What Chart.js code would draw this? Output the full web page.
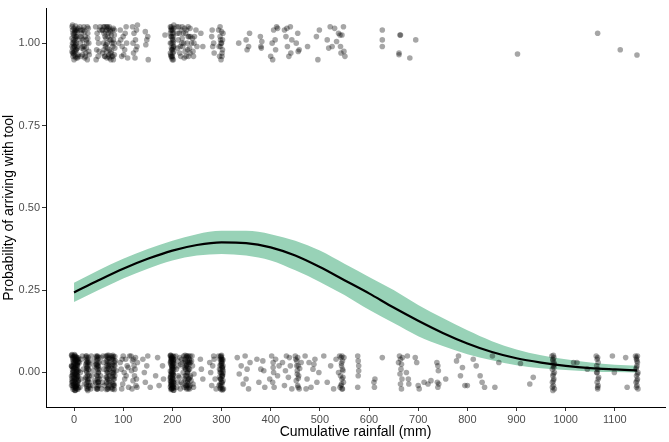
<!DOCTYPE html>
<html>
<head>
<meta charset="utf-8">
<script src="https://cdn.jsdelivr.net/npm/chart.js@4.4.1/dist/chart.umd.min.js"></script>
<style>
  html, body { margin: 0; padding: 0; background: #fff; }
  #grafico { display: block; }
</style>
</head>
<body>
<canvas id="grafico" width="669" height="442"></canvas>
<script>
// tick labels
const xTicks = [0, 100, 200, 300, 400, 500, 600, 700, 800, 900, 1000, 1100];
const yTicks = [0, 0.25, 0.5, 0.75, 1];

// fitted curve and its confidence band
const curveX = [0, 50, 100, 150, 200, 250, 300, 350, 400, 450, 500, 550, 600, 650, 700, 750, 800, 850, 900, 950, 1000, 1050, 1100, 1145];
const fitY   = [0.243, 0.28, 0.315, 0.345, 0.37, 0.387, 0.395, 0.393, 0.38, 0.355, 0.32, 0.28, 0.24, 0.197, 0.157, 0.12, 0.088, 0.062, 0.043, 0.03, 0.02, 0.013, 0.009, 0.006];
const lowerY = [0.214, 0.25, 0.285, 0.315, 0.34, 0.355, 0.36, 0.355, 0.34, 0.31, 0.275, 0.235, 0.19, 0.15, 0.11, 0.08, 0.055, 0.037, 0.022, 0.013, 0.007, 0.003, 0.001, 0.0];
const upperY = [0.272, 0.31, 0.345, 0.375, 0.4, 0.42, 0.43, 0.43, 0.42, 0.4, 0.37, 0.33, 0.29, 0.25, 0.205, 0.165, 0.128, 0.095, 0.07, 0.052, 0.04, 0.03, 0.023, 0.02];

// jittered observations: arrived without tool (y ~ 0)
const noTool = [
  [-4,0.05],[2,0.048],[6,0.045],[-2,0.04],[4,0.035],[8,0.03],[0,0.025],[-5,0.02],[3,0.015],[7,0.01],[-1,0.005],[5,0],[1,-0.005],[-3,-0.01],[6,-0.015],[2,-0.02],[-4,-0.025],[8,-0.03],[0,-0.035],[4,-0.04],
  [-2,-0.045],[6,-0.05],[1,-0.053],[-5,0.052],[3,0.038],[7,0.022],[-1,0.012],[5,-0.008],[-3,-0.028],[2,-0.042],[9,0.044],[-4,-0.018],[0,0.032],[6,0.002],[3,-0.048],[-2,0.018],[8,-0.012],[1,0.054],[4,-0.032],[-5,-0.04],
  [-3,0.045],[1,0.041],[5,0.037],[9,0.033],[-1,0.029],[3,0.025],[7,0.021],[-4,0.017],[0,0.013],[4,0.009],[8,0.005],[-2,0.001],[2,-0.003],[6,-0.007],[-5,-0.011],
  [1,-0.015],[5,-0.019],[9,-0.023],[-1,-0.027],[3,-0.031],[7,-0.035],[-3,-0.039],[0,-0.043],[4,-0.047],[8,-0.051],[2,0.051],[6,0.027],[-2,-0.006],[5,0.047],[3,-0.054],
  [-4,0.054],[0,0.049],[4,0.044],[8,0.039],[-2,0.034],[2,0.029],[6,0.024],[-5,0.019],[1,0.014],[5,0.009],[9,0.004],[-3,-0.001],[3,-0.006],[7,-0.011],[-1,-0.016],
  [4,-0.021],[8,-0.026],[-4,-0.031],[0,-0.036],[5,-0.041],[9,-0.046],[-2,-0.051],[2,-0.055],[6,-0.038],[-3,0.008],[7,0.04],[1,-0.024],[4,0.02],[-1,0.046],[3,-0.044],
  [11,0.03],[14,-0.02],[17,0.05],[12,-0.045],[19,0.01],[15,0.04],[21,-0.035],[13,0.0],
  [24,0.05],[27,0.04],[30,0.03],[25,0.02],[29,0.01],[26,0],[31,-0.01],[23,-0.02],[28,-0.03],[32,-0.04],[26,-0.05],[29,0.045],[24,-0.015],[30,-0.045],[27,0.015],[25,0.035],[31,0.025],[28,-0.025],
  [25,0.045],[28,0.03],[26,0.012],[29,-0.005],[27,-0.02],[25,-0.035],[28,-0.05],[30,0.008],[26,-0.042],[29,0.035],[24,0.025],[31,-0.03],
  [26,0.05],[28,0.02],[27,-0.01],[29,-0.04],[25,0.005],[30,-0.02],[26,0.03],[28,-0.055],
  [35,0.05],[38,-0.04],[41,0.02],[36,-0.01],[40,0.035],[34,-0.05],[39,0.005],[42,-0.025],
  [45,0.05],[48,0.04],[51,0.03],[46,0.015],[50,0],[47,-0.01],[52,-0.02],[44,-0.03],[49,-0.04],[46,-0.05],[50,0.045],[48,-0.022],[51,0.008],[45,0.025],[47,-0.045],[49,0.02],
  [47,0.048],[49,0.03],[48,0.01],[46,-0.008],[50,-0.028],[48,-0.05],[47,0.02],[49,-0.015],[46,0.035],[51,-0.04],
  [48,0.05],[47,0.025],[49,0.0],[48,-0.03],[46,0.045],[50,0.015],[47,-0.05],[49,-0.03],
  [55,0.045],[58,-0.03],[61,0.01],[56,-0.05],[60,0.03],[54,-0.01],[59,0.05],[62,-0.04],
  [65,0.05],[68,0.04],[71,0.03],[66,0.02],[70,0.01],[67,0],[72,-0.01],[69,-0.02],[66,-0.03],[71,-0.04],[68,-0.05],[70,0.045],[67,-0.035],[72,0.025],[69,0.015],[65,-0.015],[71,0.052],
  [66,0.035],[69,0.0],[72,-0.025],[67,0.048],[70,-0.045],[68,0.025],[71,-0.005],[66,-0.052],[69,0.033],[72,0.042],
  [68,0.052],[70,0.02],[67,-0.015],[71,-0.03],[69,-0.05],[66,0.008],[72,0.01],[68,-0.02],
  [76,0.05],[79,0.04],[82,0.03],[77,0.02],[81,0.01],[78,0],[83,-0.01],[80,-0.02],[77,-0.03],[82,-0.04],[79,-0.05],[84,0.035],[76,-0.045],[81,0.022],[78,-0.012],[86,0.005],[80,0.048],
  [77,0.04],[80,0.005],[83,0.02],[78,0.045],[81,-0.035],[79,-0.015],[82,-0.052],[77,0.012],[80,-0.04],[83,0.048],
  [79,0.052],[81,0.035],[78,0.025],[80,-0.005],[82,-0.02],[79,-0.035],[77,-0.05],[81,0.0],
  [94,0.03],[97,-0.05],[100,0.05],[103,-0.02],[96,0.01],[105,0.04],[99,-0.035],[108,0.02],[102,0.0],[111,-0.045],[106,-0.01],[113,0.05],[98,0.04],[110,0.015],
  [116,0.05],[119,0.035],[122,0.02],[125,0.045],[117,0.005],[123,-0.01],[120,-0.025],[126,-0.04],[118,-0.05],[124,0.01],[121,0.04],[127,-0.02],[129,0.03],[128,-0.045],
  [140,0.04],[145,-0.03],[150,0.05],[143,0.0],[155,-0.045],[148,0.02],[166,-0.01],[170,0.045],[173,-0.04],[180,0.02],[182,-0.02],
  [196,0.052],[199,0.046],[202,0.04],[197,0.034],[201,0.028],[198,0.022],[203,0.016],[200,0.01],[196,0.004],[199,-0.002],[202,-0.008],[197,-0.014],[201,-0.02],[198,-0.026],
  [203,-0.032],[200,-0.038],[196,-0.044],[199,-0.05],[202,-0.054],[198,0.043],[201,-0.006],[197,-0.03],[200,0.03],[203,-0.047],[199,0.018],[196,-0.018],[201,0.05],[198,-0.04],
  [197,0.052],[200,0.045],[203,0.04],[198,0.035],[201,0.02],[199,0.008],[202,0.0],[197,-0.005],[200,-0.015],[203,-0.022],[198,-0.035],
  [201,-0.042],[199,-0.05],[202,0.025],[196,0.03],[200,-0.028],[203,0.048],[197,-0.052],[201,0.012],[198,-0.008],[202,-0.038],[199,0.04],
  [196,0.05],[199,0.042],[202,0.034],[197,0.026],[200,0.018],[203,0.01],[198,0.002],[201,-0.006],[196,-0.014],[199,-0.022],[202,-0.03],[197,-0.038],[200,-0.046],
  [203,-0.054],[198,0.048],[201,0.036],[196,-0.026],[199,0.014],[202,-0.045],[200,0.0],[197,0.041],[201,-0.017],[198,-0.048],[203,0.028],[199,-0.033],
  [207,0.05],[210,-0.03],[213,0.02],[216,-0.05],[219,0.04],[222,0.0],[225,-0.02],[228,0.045],[231,-0.04],[234,0.03],[237,-0.01],[240,0.05],[243,-0.045],[208,0.01],
  [211,0.035],[214,-0.015],[217,0.025],[220,-0.035],[223,0.05],[226,0.015],[229,-0.05],[232,0.005],[235,0.04],[238,-0.025],[241,0.02],[244,-0.005],[209,-0.045],[212,-0.01],
  [215,0.045],[218,-0.03],[221,0.03],[224,-0.045],[227,0.01],[230,0.025],[233,-0.02],[236,-0.04],[239,0.035],[242,-0.035],[230,-0.01],[226,0.052],
  [225,0.04],[228,0.02],[231,0.0],[234,-0.02],[229,-0.04],[232,0.045],[227,0.03],[230,-0.03],[233,0.01],[236,0.05],
  [226,-0.01],[235,-0.05],[231,0.035],[228,-0.045],[234,0.025],[237,0.03],[224,0.015],[230,0.05],[232,-0.035],[227,-0.025],
  [229,0.05],[232,0.03],[235,0.01],[228,-0.01],[231,-0.025],[234,-0.045],[226,0.035],[233,0.05],[230,0.0],[236,-0.015],[227,-0.04],[232,-0.05],[229,0.02],[235,0.035],[231,0.015],
  [257,0.04],[262,-0.02],[259,0.01],
  [276,0.03],[280,-0.04],[284,0.05],[278,0.0],[287,-0.02],[282,0.02],[289,-0.05],[285,0.04],
  [294,0.05],[297,0.04],[300,0.03],[303,0.02],[296,0.01],[299,0],[302,-0.01],[298,-0.02],[301,-0.03],[295,-0.04],[304,-0.05],[300,0.045],[297,-0.035],[302,0.015],[299,-0.052],[301,0.035],[296,-0.015],[303,0.005],
  [298,0.048],[301,0.04],[299,0.025],[302,0.01],[300,-0.005],[298,-0.02],[301,-0.035],[299,-0.045],[302,-0.05],[300,0.02],[297,0.0],[303,-0.025],[299,0.035],[301,-0.012],
  [299,0.05],[301,0.028],[298,0.008],[302,-0.008],[300,-0.03],[297,-0.048],[303,0.038],[299,-0.02],[301,0.015],[298,-0.04],[300,0.052],[302,-0.053],[297,0.022],[303,-0.002],[300,0.04],
  [332,0.045],[336,-0.005],[340,0.02],[344,-0.035],[348,0.05],[352,0.01],[355,-0.05],[358,0.03],[350,-0.02],
  [372,0.04],[376,-0.03],[380,0.01],[384,0.035],[388,-0.045],[386,0.005],
  [398,-0.02],[402,0.05],[405,0.03],[406,0.0],[404,-0.03],[407,-0.045],[405,0.015],[410,0.04],[414,-0.01],[417,0.02],
  [424,0.03],[428,-0.04],[432,0.05],[436,-0.015],[440,0.02],[443,-0.05],[430,0.005],[438,0.045],
  [450,0.05],[453,0.035],[456,0.02],[454,0.005],[457,-0.01],[452,-0.025],[455,-0.04],[458,-0.05],[451,0.04],[459,0.012],[456,-0.018],[462,0.03],
  [455,0.045],[454,-0.005],[456,-0.045],[453,0.02],
  [470,0.05],[474,-0.02],[478,0.03],[482,-0.045],[486,0.01],[490,0.04],[494,-0.03],[498,0.0],[472,-0.05],[488,0.025],
  [508,0.05],[515,-0.03],[522,0.02],[528,-0.05],[533,0.04],[538,0.0],
  [540,0.05],[543,0.045],[546,0.035],[544,0.02],[547,0.005],[542,-0.01],[545,-0.02],[548,-0.03],[543,-0.04],[546,-0.05],[544,0.028],[547,-0.015],[549,0.045],[541,-0.045],
  [545,0.05],[546,0.01],[544,-0.035],[545,-0.05],
  [577,0.05],[578,0.035],[579,0.02],[578,-0.01],[577,-0.045],[579,0.005],
  [610,-0.03],[611,-0.045],[612,-0.02],[627,0.045],
  [662,0.05],[664,0.04],[666,0.025],[665,0.01],[663,-0.005],[667,-0.02],[664,-0.035],[666,-0.05],[660,0.03],[668,0.045],
  [678,0.05],[680,-0.02],[681,-0.035],[676,0.0],[694,0.045],[697,0.03],[700,-0.04],[702,-0.05],
  [712,-0.03],[720,-0.035],[726,-0.025],
  [738,0.03],[740,0.02],[741,0.005],[739,-0.03],[742,-0.035],[740,-0.045],[756,-0.02],
  [778,0.035],[782,0.05],[786,-0.01],[790,0.015],[795,-0.04],[800,-0.04],
  [812,0.04],[818,0.02],[826,-0.01],[830,-0.03],[835,-0.045],[851,0.05],[856,-0.045],
  [864,0.03],[908,0.027],[927,-0.035],[934,-0.015],
  [972,0.05],[974,0.04],[976,0.03],[975,0.02],[973,0.01],[977,0.0],[974,-0.01],[976,-0.02],[973,-0.03],[975,-0.04],[977,-0.05],[974,-0.055],[976,0.045],[975,-0.025],
  [974,0.035],[976,0.015],[975,-0.005],[973,-0.045],[977,0.025],[975,0.052],
  [1016,0.03],[1023,0.03],[1044,0.01],
  [1062,0.05],[1064,0.04],[1066,0.03],[1065,0.01],[1063,0.0],[1067,-0.015],[1064,-0.03],[1066,-0.04],[1065,-0.05],[1063,0.02],
  [1065,0.045],[1064,0.0],[1066,-0.02],[1065,-0.045],
  [1095,0.05],[1099,0.0],[1122,0.045],[1125,-0.045],
  [1142,0.05],[1144,0.04],[1146,0.03],[1145,0.02],[1143,0.01],[1147,0.0],[1144,-0.01],[1146,-0.02],[1143,-0.03],[1145,-0.04],[1147,-0.05],[1144,0.045],
  [1145,0.035],[1144,0.015],[1146,-0.005],[1145,-0.025],[1144,-0.045],[1146,0.05]
];

// jittered observations: arrived with tool (y ~ 1)
const withTool = [
  [-4,1.05],[0,1.045],[4,1.04],[-2,1.03],[2,1.02],[6,1.01],[-3,1.0],[1,0.99],[5,0.98],[-1,0.97],[3,0.96],[7,0.955],[0,0.95],[-4,1.015],[2,0.975],[6,1.035],[-2,0.985],[4,1.0],[8,0.965],[-1,1.025],[3,1.052],[0,0.99],
  [-3,1.04],[1,1.03],[5,1.02],[-1,1.01],[3,0.995],[7,0.985],[-4,0.975],[0,0.965],[4,0.955],[8,1.045],[-2,0.96],[2,1.04],[6,0.99],[-3,0.97],[1,1.005],
  [-3,1.055],[2,1.035],[6,1.02],[-1,1.0],[4,0.98],[8,0.96],[0,0.975],[-4,0.99],[3,1.015],[7,1.04],
  [12,1.05],[15,1.03],[18,1.01],[21,0.99],[24,0.97],[27,0.95],[14,0.96],[17,1.04],[20,0.98],[23,1.02],[26,1.0],[29,1.045],[31,0.965],[28,1.015],[22,0.955],[16,0.985],
  [13,1.0],[19,1.04],[25,1.01],[30,0.975],[22,1.035],[17,0.965],[27,1.05],[14,1.02],
  [13,1.04],[18,0.99],[23,0.96],[28,1.03],[20,1.05],[25,0.985],[16,1.015],[30,1.0],
  [44,1.05],[47,1.03],[50,1.0],[46,0.98],[49,0.96],[52,1.04],[45,0.95],[48,1.015],[51,0.975],[53,1.05],
  [57,1.04],[60,1.0],[63,0.96],[66,1.05],[69,1.02],[72,0.98],[75,0.95],[78,1.04],[81,1.0],[58,0.97],[61,1.03],[64,0.99],[67,0.955],
  [70,1.045],[73,1.01],[76,0.975],[79,0.96],[82,1.025],[65,1.015],[68,0.985],[71,0.965],[74,1.035],[77,1.0],[80,0.95],[62,1.05],[83,0.985],
  [58,1.04],[61,0.98],[64,1.035],[67,1.0],[70,0.96],[73,1.04],[76,1.025],[79,0.99],[82,0.965],[68,1.05],[72,0.955],[75,1.01],[63,1.02],[80,1.045],[66,0.975],
  [60,1.05],[65,0.995],[70,1.03],[75,0.97],[80,1.01],[72,1.05],[67,1.04],[77,0.96],[62,0.96],[82,1.04],
  [91,1.0],[94,1.04],[97,0.96],[100,1.02],[103,0.98],[106,1.05],[109,0.955],[95,1.01],[98,0.99],[104,1.03],[101,0.965],[107,1.0],
  [119,1.05],[122,1.03],[125,1.01],[128,0.99],[121,0.97],[124,0.955],[127,1.04],[120,1.0],[126,0.98],[129,1.055],
  [145,1.035],[148,1.01],[151,0.95],[146,0.995],[150,1.02],[185,1.025],
  [196,1.05],[199,1.04],[202,1.03],[197,1.02],[201,1.01],[198,1.0],[203,0.99],[200,0.98],[196,0.97],[199,0.96],[202,0.95],[198,1.045],[201,0.985],[197,0.965],[200,1.015],[203,1.055],
  [197,1.04],[200,1.03],[202,1.005],[198,0.985],[201,0.97],[199,0.955],[203,1.045],[196,1.0],[200,0.96],[202,1.02],
  [198,1.05],[201,1.04],[199,1.02],[202,0.99],[197,0.96],[200,0.95],[203,0.975],[196,1.03],[201,1.0],[199,0.98],
  [209,1.05],[212,1.01],[215,0.97],[218,1.04],[221,0.99],[224,0.955],[227,1.03],[230,1.0],[233,0.96],[236,1.045],[239,1.0],
  [242,0.975],[245,1.02],[248,1.04],[211,0.985],[214,1.03],[220,1.015],[226,0.975],[232,1.05],[235,0.985],[241,1.015],[250,0.99],
  [213,1.05],[219,1.0],[225,1.045],[231,0.98],[237,1.02],[243,0.96],[216,0.99],[222,1.03],[228,0.96],[234,1.02],
  [210,1.03],[217,0.96],[223,1.0],[229,1.04],[236,0.97],[244,1.0],[220,1.05],[232,1.02],
  [258,1.03],[262,0.99],
  [280,1.02],[282,0.99],[284,1.0],[285,0.97],[281,1.04],
  [294,1.04],[297,1.02],[300,1.0],[302,0.98],[296,0.96],[299,0.95],[303,1.03],[298,1.01],[301,0.97],[295,0.99],
  [297,1.05],[300,1.035],[302,1.01],[298,0.99],[301,0.96],[299,1.0],
  [335,1.0],[350,1.01],[352,0.98],[355,0.99],[357,1.03],
  [379,1.02],[380,0.99],[381,0.985],[382,1.005],
  [400,0.96],[403,1.0],[406,1.04],[409,1.01],[412,1.05],[404,0.95],[410,0.98],[414,1.045],
  [428,1.04],[431,1.02],[434,0.99],[437,0.96],[440,1.05],[443,1.01],[433,1.045],[441,0.97],
  [452,1.0],[455,1.03],[458,0.98],[456,0.975],[475,0.99],
  [493,1.02],[496,0.95],[499,1.04],
  [515,1.01],[518,0.985],[521,1.05],[525,0.99],
  [530,1.045],[534,1.005],[538,1.03],[541,1.025],[542,0.99],[543,0.97],[545,1.025],[548,1.05],[549,0.975],[551,0.96],
  [627,1.04],[627,1.01],[627,0.99],
  [663,1.025],[664,1.025],[661,0.97],[661,0.965],[683,0.955],[695,1.01],
  [902,0.967],[1065,1.03],[1111,0.98],[1145,0.964]
];

const toXY = (xs, ys) => xs.map((x, i) => ({ x: x, y: ys[i] }));
const pairs = arr => arr.map(p => ({ x: p[0], y: p[1] }));

const fonte = "'Liberation Sans', Arial, sans-serif";
const cinza = '#4d4d4d';

const ctx = document.getElementById('grafico').getContext('2d');

const chart = new Chart(ctx, {
    type: 'scatter',
    data: {
        datasets: [
            {
                label: 'fit',
                data: toXY(curveX, fitY),
                showLine: true,
                borderColor: '#000000',
                borderWidth: 2.2,
                pointRadius: 0,
                tension: 0.4,
                cubicInterpolationMode: 'monotone',
                fill: false,
                order: 0
            },
            {
                label: 'sem ferramenta',
                data: pairs(noTool),
                backgroundColor: 'rgba(0,0,0,0.35)',
                borderWidth: 0,
                pointRadius: 2.8,
                order: 1
            },
            {
                label: 'com ferramenta',
                data: pairs(withTool),
                backgroundColor: 'rgba(0,0,0,0.35)',
                borderWidth: 0,
                pointRadius: 2.8,
                order: 1
            },
            {
                label: 'lower',
                data: toXY(curveX, lowerY),
                showLine: true,
                borderWidth: 0,
                borderColor: 'rgba(0,0,0,0)',
                pointRadius: 0,
                tension: 0.4,
                cubicInterpolationMode: 'monotone',
                fill: false,
                order: 2
            },
            {
                label: 'upper',
                data: toXY(curveX, upperY),
                showLine: true,
                borderWidth: 0,
                borderColor: 'rgba(0,0,0,0)',
                pointRadius: 0,
                tension: 0.4,
                cubicInterpolationMode: 'monotone',
                fill: '-1',
                backgroundColor: 'rgb(152,210,183)',
                order: 2
            }
        ]
    },
    options: {
        responsive: false,
        animation: false,
        layout: { padding: { top: 1, right: 2, bottom: 0, left: 0 } },
        plugins: {
            legend: { display: false },
            tooltip: { enabled: false }
        },
        scales: {
            x: {
                type: 'linear',
                min: -57,
                max: 1202,
                afterBuildTicks: axis => { axis.ticks = xTicks.map(v => ({ value: v })); },
                afterFit: axis => { axis.height = 35; },
                grid: { display: true, drawOnChartArea: false, drawTicks: true, tickLength: 4, tickColor: '#333333' },
                border: { display: true, color: '#000000', width: 1 },
                ticks: { color: cinza, font: { family: fonte, size: 11 }, padding: 2, maxRotation: 0, autoSkip: false, callback: v => String(v) },
                title: { display: true, text: 'Cumulative rainfall (mm)', color: '#000000', font: { family: fonte, size: 14 }, padding: { top: 0, bottom: 1 } }
            },
            y: {
                type: 'linear',
                min: -0.105,
                max: 1.105,
                afterBuildTicks: axis => { axis.ticks = yTicks.map(v => ({ value: v })); },
                afterFit: axis => { axis.width = 46; },
                grid: { display: true, drawOnChartArea: false, drawTicks: true, tickLength: 4, tickColor: '#333333' },
                border: { display: true, color: '#000000', width: 1 },
                ticks: { color: cinza, font: { family: fonte, size: 11 }, padding: 2, callback: v => v.toFixed(2) },
                title: { display: true, text: 'Probability of arriving with tool', color: '#000000', font: { family: fonte, size: 14 }, padding: { top: 1, bottom: 0 } }
            }
        }
    }
});
</script>
</body>
</html>
